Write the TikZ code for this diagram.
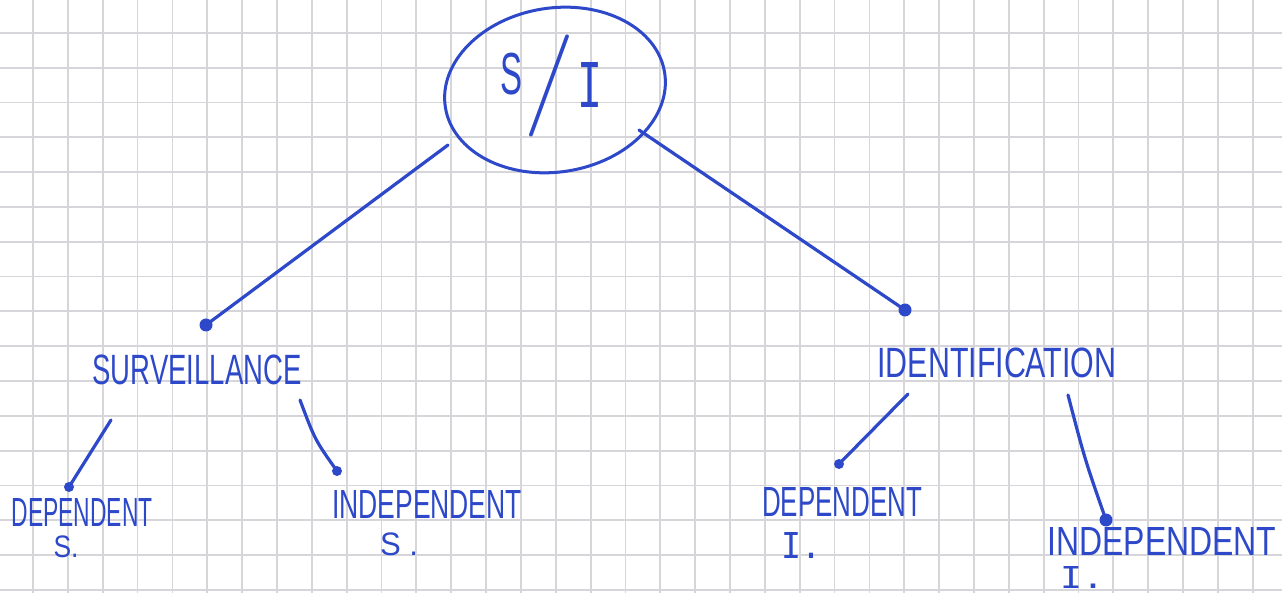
\documentclass[tikz,border=0pt]{standalone}
\usepackage{fontspec}
\setmainfont{Liberation Sans}
\newfontfamily\monof{DejaVu Sans Mono}
\usepackage{graphicx}
\definecolor{ink}{RGB}{45,72,200}
\definecolor{gridc}{RGB}{214,214,218}
\newcommand{\hw}[3]{\resizebox*{#1pt}{#2pt}{#3}}
\begin{document}
\begin{tikzpicture}[x=1pt,y=-1pt,
  gridline/.style={gridc, line width=1.8pt},
  conn/.style={ink, line width=3.2pt, line cap=round},
  enddot/.style={circle, fill=ink, inner sep=0pt, minimum size=13pt},
  smalldot/.style={circle, fill=ink, inner sep=0pt, minimum size=10pt},
  lbl/.style={text=ink, inner sep=0pt, anchor=center}]
\useasboundingbox (0,0) rectangle (1282,593);
\fill[white] (0,0) rectangle (1282,593);
% grid paper
\foreach \k in {0,...,36} {
  \draw[gridline] ({33+34.85*\k},0) -- ({33+34.85*\k},593);
}
\foreach \k in {0,...,16} {
  \draw[gridline] (0,{33+34.8*\k}) -- (1282,{33+34.8*\k});
}
% root ellipse
\draw[ink, line width=3pt, rotate around={9:(555,90)}] (555,90) ellipse [x radius=111, y radius=82];
\node[lbl] (rS) at (511,74) {\hw{22}{42}{S}};
\node[lbl] (rSlash) at (549,86) {\hw{50}{102}{\fontsize{30}{36}\selectfont$\Bigg/$}};
\node[lbl] (rI) at (590,85) {\hw{25}{45}{\monof I}};
% main connectors
\coordinate (rootL) at (448,145);
\coordinate (rootR) at (639,130);
\node[enddot] (dS) at (206,325) {};
\node[enddot] (dI) at (905,310) {};
\draw[conn] (rootL) -- (dS.center);
\draw[conn] (rootR) -- (dI.center);
% level 2 labels
\node[lbl] (surv) at (197,370) {\hw{209}{30}{SURVEILLANCE}};
\node[lbl] (ident) at (997,363) {\hw{239}{30}{IDENTIFICATION}};
% sub connectors
\coordinate (sL) at (111,420);
\coordinate (sR) at (300,400);
\coordinate (iL) at (908,394);
\coordinate (iR) at (1068,395);
\node[smalldot] (dDS) at (69,487) {};
\node[smalldot] (dIS) at (337,471) {};
\node[smalldot] (dDI) at (839,464) {};
\node[enddot] (dII) at (1106,520) {};
\draw[conn] (sL) -- (dDS.center);
\draw[conn] (sR) .. controls (315,440) .. (dIS.center);
\draw[conn] (iL) -- (dDI.center);
\draw[conn] (iR) .. controls (1085,460) .. (dII.center);
% leaf labels
\node[lbl] (depS) at (82,512) {\hw{141}{28}{DEPENDENT}};
\node[lbl] (depSb) at (66,547) {\hw{25}{22}{S.}};
\node[lbl] (indS) at (427,504) {\hw{190}{28}{INDEPENDENT}};
\node[lbl] (indSb) at (399,544) {\hw{38}{23}{S .}};
\node[lbl] (depI) at (842,502) {\hw{160}{29}{DEPENDENT}};
\node[lbl] (depIb) at (801,545) {\hw{40}{26}{\monof I.}};
\node[lbl] (indI) at (1162,541) {\hw{229}{28}{INDEPENDENT}};
\node[lbl] (indIb) at (1082,577) {\hw{44}{22}{\monof I.}};
\end{tikzpicture}
\end{document}
